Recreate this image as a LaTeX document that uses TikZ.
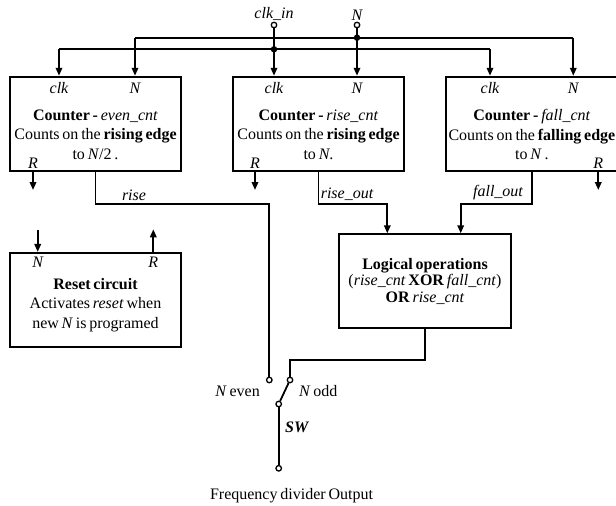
\documentclass[tikz,border=0pt]{standalone}
\usepackage{fontspec}
\setmainfont{Liberation Serif}[WordSpace=0.7]
\usetikzlibrary{arrows.meta,positioning}

\begin{document}
\begin{tikzpicture}[
    x=1pt, y=-1pt,
    font=\fontsize{16}{19.5}\selectfont,
    cntbox/.style={rectangle, draw, line width=2pt, minimum width=171pt, minimum height=94.5pt, inner sep=0pt},
    boxtext/.style={align=center, inner sep=0pt},
    port/.style={font=\fontsize{16}{19.5}\selectfont\itshape, inner sep=0pt},
    wire/.style={line width=1.8pt},
    arrow/.style={wire, -{Triangle[length=8pt,width=6.5pt]}},
    term/.style={circle, draw, line width=1.3pt, fill=white, minimum size=5.5pt, inner sep=0pt},
    junc/.style={circle, fill, minimum size=6.5pt, inner sep=0pt}
]
\useasboundingbox (0,0) rectangle (616,506);

% Inputs
\node[term] (clkin) at (274,25) {};
\node[term] (nin) at (357,25) {};
\node[port, above=1pt of clkin] (clkinlbl) {clk\_in};
\node[port, above=1pt of nin] (ninlbl) {N};

% Counters
\node[cntbox] (even) at (95.5,124) {};
\node[cntbox, right=50pt of even] (rise) {};
\node[cntbox, right=39.6pt of rise, minimum width=172.7pt] (fall) {};

\node[boxtext] (eventxt) at ([yshift=-10.5pt]even.center) {\textbf{Counter -} \textit{even\_cnt}\\Counts on the \textbf{rising edge}\\to \textit{N}/2 .};
\node[boxtext] (risetxt) at ([yshift=-10.5pt]rise.center) {\textbf{Counter -} \textit{rise\_cnt}\\Counts on the \textbf{rising edge}\\to \textit{N}.};
\node[boxtext] (falltxt) at ([yshift=-10.5pt]fall.center) {\textbf{Counter -} \textit{fall\_cnt}\\Counts on the \textbf{falling edge}\\to \textit{N} .};

% Ports of the counters
\node[port] (evenclk) at (59,88) {clk};
\node[port] (evenn) at (135,88) {N};
\node[port] (evenr) at (33,163) {R};
\node[port] (riseclk) at (274,88) {clk};
\node[port] (risen) at (357,88) {N};
\node[port] (riser) at (255,163) {R};
\node[port] (fallclk) at (490,88) {clk};
\node[port] (falln) at (573.3,88) {N};
\node[port] (fallr) at (598.3,163) {R};

% Reset circuit
\node[cntbox, below=79.7pt of even, minimum height=94pt] (reset) {};
\node[boxtext] (resettxt) at ([yshift=-5pt]reset.center) {\textbf{Reset circuit}\\Activates \textit{reset} when\\new \textit{N} is programed};
\node[port] (resetn) at (37.7,262.7) {N};
\node[port] (resetr) at (153.3,262.7) {R};

% Logical operations
\node[cntbox, minimum width=171.4pt, minimum height=94pt] (logic) at (425,281.3) {};
\node[boxtext, font=\fontsize{16}{16.5}\selectfont] (logictxt) at (logic.center) {\textbf{Logical operations}\\(\textit{rise\_cnt} \textbf{XOR} \textit{fall\_cnt})\\\textbf{OR} \textit{rise\_cnt}};

% Switch
\node[term] (neven) at (269.3,380) {};
\node[term] (nodd) at (290,380) {};
\node[term] (pivot) at (278.7,404) {};
\node[term] (outp) at (278.7,468.3) {};
\node[anchor=east, inner sep=0pt] (nevenlbl) at (260,391.5) {\textit{N} even};
\node[anchor=west, inner sep=0pt] (noddlbl) at (299,391.5) {\textit{N} odd};
\node[port, font=\fontsize{16}{19.5}\selectfont\bfseries\itshape] (swlbl) at (296.7,427.7) {SW};
\node[inner sep=0pt] (outlbl) at (291.5,496) {Frequency divider Output};

% Buses
\coordinate (clkL) at (59,49.3);
\coordinate (clkR) at (490,49.3);
\coordinate (nL) at (135,37.7);
\coordinate (nR) at (573.3,37.7);
\draw[wire] (clkL) -- (clkR);
\draw[wire] (nL) -- (nR);
\draw[arrow] (clkL) -- (clkL |- even.north);
\draw[arrow] (nL) -- (nL |- even.north);
\draw[arrow] (clkin) -- (clkin |- rise.north);
\draw[arrow] (nin) -- (nin |- rise.north);
\draw[arrow] (clkR) -- (clkR |- fall.north);
\draw[arrow] (nR) -- (nR |- fall.north);
\node[junc] (jclk) at (274,49.3) {};
\node[junc] (jn) at (357,37.7) {};

% Reset lines
\coordinate (evenrend) at (33,190);
\coordinate (riserend) at (255,190);
\coordinate (fallrend) at (598.3,190);
\draw[arrow] (evenrend |- even.south) -- (evenrend);
\draw[arrow] (riserend |- rise.south) -- (riserend);
\draw[arrow] (fallrend |- fall.south) -- (fallrend);
\coordinate (resetnin) at (37.7,230);
\coordinate (resetrout) at (153.3,229.3);
\draw[arrow] (resetnin) -- (resetnin |- reset.north);
\draw[arrow] (resetrout |- reset.north) -- (resetrout);

% Outputs
\draw[wire] (even.south) -- ++(0,32) -| (neven);
\draw[arrow] (rise.south) -- ++(0,32) -| ([xshift=-37.7pt]logic.north);
\draw[arrow] (fall.south) -- ++(0,32) -| ([xshift=35.7pt]logic.north);
\draw[wire] (logic.south) -- ++(0,31) -| (nodd);
\draw[wire] (nodd) -- (pivot);
\draw[wire] (pivot) -- (outp);

\node[port] (riselbl) at (134,195) {rise};
\node[port] (riseoutlbl) at (347,194) {rise\_out};
\node[port] (falloutlbl) at (498,193) {fall\_out};

\end{tikzpicture}
\end{document}
